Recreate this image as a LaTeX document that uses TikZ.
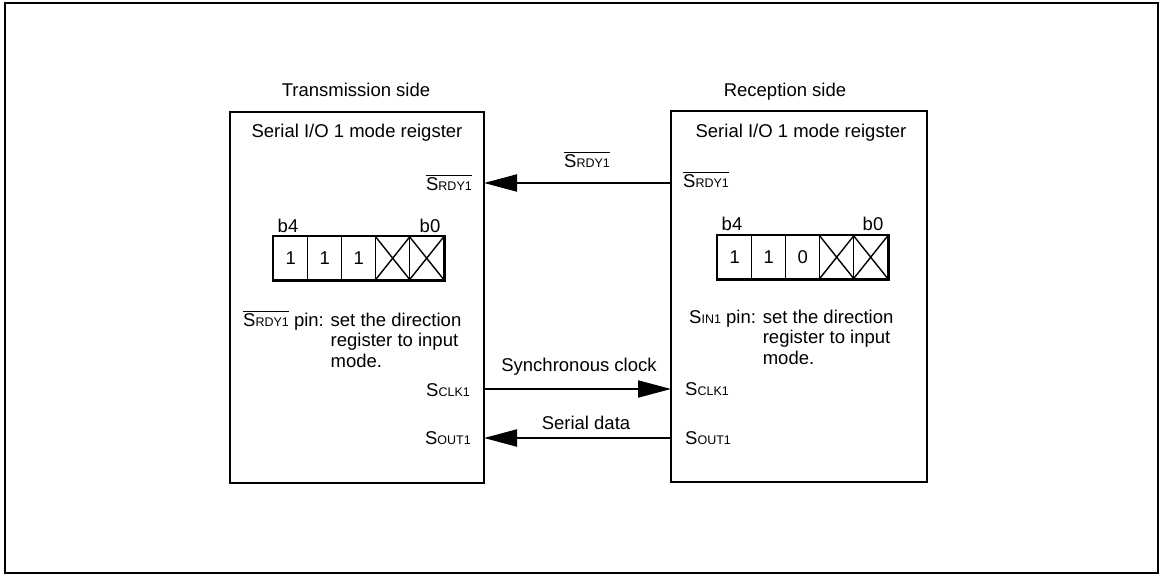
\documentclass[tikz,border=0pt]{standalone}
\usepackage{fontspec}
\setmainfont{Liberation Sans}
\usetikzlibrary{arrows.meta}
\newcommand\sml[1]{{\fontsize{12.5}{14}\selectfont #1}}
\newcommand\ovl[1]{\leavevmode\vbox{\hrule height 0.9pt\kern1.6pt\hbox{#1}}}
\begin{document}
\begin{tikzpicture}[x=1pt,y=-1pt,
  font=\fontsize{18.5}{20.5}\selectfont,
  frame/.style={draw, line width=2.5pt},
  sidebox/.style={draw, line width=2pt, minimum width=254pt, minimum height=371pt, inner sep=0pt},
  lbl/.style={inner sep=0pt, anchor=base},
  lblE/.style={inner sep=0pt, anchor=base east},
  lblW/.style={inner sep=0pt, anchor=base west},
  cell/.style={draw, line width=1.4pt, minimum width=34pt, minimum height=43pt, inner sep=0pt, anchor=north west},
  regframe/.style={draw, line width=2.2pt},
  arr/.style={line width=2pt, -{Triangle[length=33pt,width=17pt]}}]
\useasboundingbox (0,0) rectangle (1161,575);
% outer frame
\draw[frame] (5,3) rectangle (1158,573);
% side boxes
\node[sidebox] (tx) at (357,297.5) {};
\node[sidebox, minimum width=256pt] (rx) at (799,296.5) {};
% titles
\node[lbl] (txt) at (356,97) {Transmission side};
\node[lbl] (rxt) at (785,97) {Reception side};
\node[lbl] (txm) at (357,138) {Serial I/O 1 mode reigster};
\node[lbl] (rxm) at (801,138) {Serial I/O 1 mode reigster};
% pins left
\node[lblE] (txrdy) at (472,190) {\ovl{S\sml{RDY1}}};
\node[lblE] (txclk) at (470,396) {S\sml{CLK1}};
\node[lblE] (txout) at (471,444) {S\sml{OUT1}};
% pins right
\node[lblW] (rxrdy) at (683,187) {\ovl{S\sml{RDY1}}};
\node[lblW] (rxclk) at (685,395) {S\sml{CLK1}};
\node[lblW] (rxout) at (685,444) {S\sml{OUT1}};
% connector end points on box borders
\coordinate (rdyR) at (671,183);
\coordinate (rdyL) at (484,183);
\coordinate (clkL) at (484,389);
\coordinate (clkR) at (671,389);
\coordinate (outR) at (671,438);
\coordinate (outL) at (484,438);
% connectors
\draw[arr] (rdyR) -- (rdyL);
\draw[arr] (clkL) -- (clkR);
\draw[arr] (outR) -- (outL);
\node[lbl] (rdylbl) at (587,167) {\ovl{S\sml{RDY1}}};
\node[lbl] (clklbl) at (579,371) {Synchronous clock};
\node[lbl] (outlbl) at (586,429) {Serial data};
% left register
\node[lbl] (lb4) at (288,232) {b4};
\node[lbl] (lb0) at (430,232) {b0};
\node[cell] (l1) at (273,236) {1};
\node[cell] (l2) at (307,236) {1};
\node[cell] (l3) at (341,236) {1};
\node[cell] (l4) at (375,236) {};
\node[cell] (l5) at (409,236) {};
\draw[line width=1.4pt] (l4.north west) -- (l4.south east) (l4.north east) -- (l4.south west);
\draw[line width=1.4pt] (l5.north west) -- (l5.south east) (l5.north east) -- (l5.south west);
\draw[regframe] (l1.north west) rectangle (l5.south east);
% right register
\node[lbl] (rb4) at (732,230) {b4};
\node[lbl] (rb0) at (873,230) {b0};
\node[cell] (r1) at (717,235) {1};
\node[cell] (r2) at (751,235) {1};
\node[cell] (r3) at (785,235) {0};
\node[cell] (r4) at (819,235) {};
\node[cell] (r5) at (853,235) {};
\draw[line width=1.4pt] (r4.north west) -- (r4.south east) (r4.north east) -- (r4.south west);
\draw[line width=1.4pt] (r5.north west) -- (r5.south east) (r5.north east) -- (r5.south west);
\draw[regframe] (r1.north west) rectangle (r5.south east);
% pin notes
\node[lblW] (txnote) at (243,326) {\ovl{S\sml{RDY1}} pin: \begin{tabular}[t]{@{}l@{}}set the direction\\register to input\\mode.\end{tabular}};
\node[lblW] (rxnote) at (689,323) {S\sml{IN1} pin: \begin{tabular}[t]{@{}l@{}}set the direction\\register to input\\mode.\end{tabular}};
\end{tikzpicture}
\end{document}
